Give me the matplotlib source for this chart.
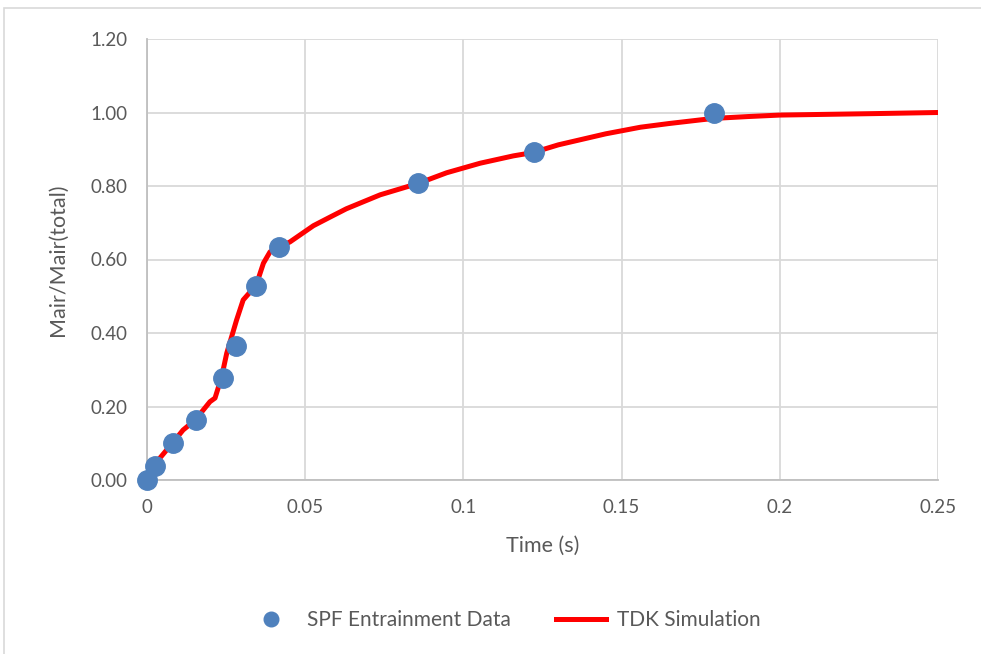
import matplotlib.pyplot as plt
from matplotlib.patches import Rectangle

# SPF entrainment measurements
spf_time = [0.0, 0.0025, 0.0082, 0.0155, 0.0240, 0.0281, 0.0345, 0.0417, 0.0857, 0.1223, 0.1793]
spf_ratio = [0.0, 0.038, 0.100, 0.163, 0.277, 0.364, 0.528, 0.634, 0.808, 0.892, 1.0]

# TDK simulation curve
tdk_time = [0, 0.002, 0.0041, 0.008, 0.0114, 0.0152, 0.0199, 0.0215, 0.0236, 0.0252,
            0.0283, 0.0304, 0.0345, 0.0368, 0.0389, 0.0415, 0.0452, 0.0526, 0.058, 0.063,
            0.0737, 0.0857, 0.0947, 0.1053, 0.1158, 0.122, 0.130, 0.137, 0.145, 0.156,
            0.165, 0.175, 0.1793, 0.19, 0.2, 0.215, 0.23, 0.25]
tdk_ratio = [0, 0.03, 0.06, 0.10, 0.136, 0.163, 0.213, 0.223, 0.281, 0.345,
             0.435, 0.49, 0.53, 0.59, 0.621, 0.632, 0.648, 0.692, 0.716, 0.738,
             0.776, 0.807, 0.836, 0.862, 0.882, 0.891, 0.912, 0.926, 0.942, 0.960,
             0.970, 0.980, 0.984, 0.989, 0.993, 0.995, 0.997, 1.0]

x_ticks = [0, 0.05, 0.1, 0.15, 0.2, 0.25]
x_labels = ['0', '0.05', '0.1', '0.15', '0.2', '0.25']
y_ticks = [0, 0.2, 0.4, 0.6, 0.8, 1.0, 1.2]

plt.rcParams['font.family'] = ['Lato', 'DejaVu Sans']
grey = '#595959'

fig = plt.figure(figsize=(9.81, 6.54), dpi=100)
ax = fig.add_axes([147 / 981, 1 - 480 / 654, (938 - 147) / 981, (480 - 39) / 654])

# chart border (only top and left visible in the reference)
fig.patches.append(Rectangle((4 / 981, -0.05), 1.1, (654 - 8) / 654 + 0.05,
                             transform=fig.transFigure, fill=False,
                             edgecolor='#d9d9d9', linewidth=1.2))

ax.plot(tdk_time, tdk_ratio, color='#ff0000', linewidth=3.6, label='TDK Simulation', zorder=3)
ax.plot(spf_time, spf_ratio, linestyle='none', marker='o', markersize=14,
        color='#4f81bd', label='SPF Entrainment Data', zorder=4, clip_on=False)

ax.set_xlim(0, 0.25)
ax.set_ylim(0, 1.2)
ax.set_xticks(x_ticks)
ax.set_xticklabels(x_labels)
ax.set_yticks(y_ticks)
ax.set_yticklabels([f'{v:.2f}' for v in y_ticks])
ax.tick_params(length=0, labelsize=13.5, labelcolor=grey, pad=14)

ax.grid(True, color='#d9d9d9', linewidth=1.3)
ax.set_axisbelow(True)
for side in ['top', 'right']:
    ax.spines[side].set_visible(False)
for side in ['left', 'bottom']:
    ax.spines[side].set_color('#bfbfbf')
    ax.spines[side].set_linewidth(1.3)

ax.set_xlabel('Time (s)', fontsize=15.5, color=grey, labelpad=14)
ax.set_ylabel('Mair/Mair(total)', fontsize=15.5, color=grey, labelpad=16)

handles, labels = ax.get_legend_handles_labels()
fig.legend(handles[::-1], labels[::-1], loc='center', bbox_to_anchor=(0.513, 1 - 620 / 654),
           ncol=2, frameon=False, fontsize=15, labelcolor=grey, markerscale=0.75,
           handlelength=2.4, columnspacing=2.2, handletextpad=0.5)

fig.savefig('out.png', dpi=100)
